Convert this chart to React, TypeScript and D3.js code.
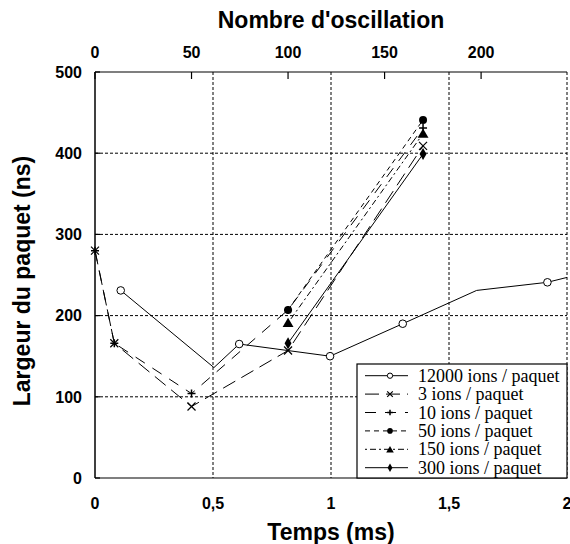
import React from "react";
import * as d3 from "d3";

// ---- data (time in ms, width in ns) ----
const xTicks = [0, 0.5, 1, 1.5, 2];
const xTickLabels = ["0", "0,5", "1", "1,5", "2"];
const yTicks = [0, 100, 200, 300, 400, 500];
const oscTicks = [0, 50, 100, 150, 200];
const oscMax = 244.5; // oscillations at 2 ms

const t12000 = [0.109, 0.504, 0.611, 0.996, 1.304, 1.617, 1.917, 2.0];
const v12000 = [231, 136, 165, 150, 190, 231, 241, 247];
const m12000 = [true, false, true, true, true, false, true, false];

const t3 = [0, 0.0818, 0.409, 0.818, 1.39];
const v3 = [280, 166, 88, 157, 409];

const t10 = [0, 0.0818, 0.409, 0.818, 1.39];
const v10 = [280, 166, 104, 207, 431];

const t50 = [0.818, 1.39];
const v50 = [207, 441];

const t150 = [0.818, 1.39];
const v150 = [191, 424];

const t300 = [0.818, 1.39];
const v300 = [166, 399];

const legendLabels = [
  "12000 ions / paquet",
  "3 ions / paquet",
  "10 ions / paquet",
  "50 ions / paquet",
  "150 ions / paquet",
  "300 ions / paquet",
];

type MarkerKind = "circleOpen" | "x" | "plus" | "circleFilled" | "triangle" | "diamond";

const series: { t: number[]; v: number[]; marks?: boolean[]; dash: string; marker: MarkerKind }[] = [
  { t: t12000, v: v12000, marks: m12000, dash: "none", marker: "circleOpen" },
  { t: t3, v: v3, dash: "14,7", marker: "x" },
  { t: t10, v: v10, dash: "11,9", marker: "plus" },
  { t: t50, v: v50, dash: "5,4", marker: "circleFilled" },
  { t: t150, v: v150, dash: "2,3,6,3", marker: "triangle" },
  { t: t300, v: v300, dash: "none", marker: "diamond" },
];

const L = 95, R = 567, T = 72, B = 478;
const x = d3.scaleLinear().domain([0, 2]).range([L, R]);
const xo = d3.scaleLinear().domain([0, oscMax]).range([L, R]);
const y = d3.scaleLinear().domain([0, 500]).range([B, T]);

function Marker({ kind, cx, cy, s }: { kind: MarkerKind; cx: number; cy: number; s: number }) {
  switch (kind) {
    case "circleOpen":
      return <circle cx={cx} cy={cy} r={s * 0.95} fill="white" stroke="black" strokeWidth={1} />;
    case "circleFilled":
      return <circle cx={cx} cy={cy} r={s} fill="black" />;
    case "x":
      return (
        <path
          d={`M${cx - s},${cy - s}L${cx + s},${cy + s}M${cx - s},${cy + s}L${cx + s},${cy - s}`}
          stroke="black"
          strokeWidth={1.2}
        />
      );
    case "plus":
      return (
        <path
          d={`M${cx - s},${cy}L${cx + s},${cy}M${cx},${cy - s}L${cx},${cy + s}`}
          stroke="black"
          strokeWidth={1.5}
        />
      );
    case "triangle": {
      const sym = d3.symbol(d3.symbolTriangle, s * s * 3.2)();
      return <path d={sym as string} transform={`translate(${cx},${cy + 1})`} fill="black" />;
    }
    case "diamond": {
      const sym = d3.symbol(d3.symbolDiamond, s * s * 2.6)();
      return <path d={sym as string} transform={`translate(${cx},${cy})`} fill="black" />;
    }
  }
  return null;
}

export default function App() {
  const line = d3
    .line<[number, number]>()
    .x((d) => x(d[0]))
    .y((d) => y(d[1]));

  const boldSans = "Liberation Sans, Arial, sans-serif";
  const serif = "Liberation Serif, serif";
  const legX0 = 357, legY0 = 364, legX1 = 567, legY1 = 478;
  const rowH = 18.4;

  return (
    <svg
      width={570}
      height={544}
      style={{ position: "absolute", left: 0, top: 0, background: "white" }}
    >
      <rect x={0} y={0} width={570} height={544} fill="white" />
      <defs>
        <clipPath id="plotclip">
          <rect x={L} y={T} width={R - L} height={B - T} />
        </clipPath>
      </defs>

      {/* grid */}
      {yTicks
        .filter((v) => v > 0 && v < 500)
        .map((v) => (
          <line key={"gy" + v} x1={L} x2={R} y1={y(v)} y2={y(v)} stroke="black" strokeWidth={1} strokeDasharray="3,2" />
        ))}
      {xTicks
        .filter((v) => v > 0 && v < 2)
        .map((v) => (
          <line key={"gx" + v} x1={x(v)} x2={x(v)} y1={T} y2={B} stroke="black" strokeWidth={1} strokeDasharray="3,2" />
        ))}

      {/* frame */}
      <line x1={L} x2={R} y1={T} y2={T} stroke="black" strokeWidth={1.2} />
      <line x1={L} x2={R} y1={B} y2={B} stroke="black" strokeWidth={1.2} />
      <line x1={L} x2={L} y1={T} y2={B} stroke="black" strokeWidth={1.5} />
      <line x1={R} x2={R} y1={T} y2={B} stroke="black" strokeWidth={1} strokeDasharray="3,2" />

      {/* y ticks */}
      {yTicks.map((v) => (
        <line key={"yt" + v} x1={L} x2={L + 5} y1={y(v)} y2={y(v)} stroke="black" strokeWidth={1.2} />
      ))}
      {/* top ticks */}
      {oscTicks.map((v) => (
        <line key={"ot" + v} x1={xo(v)} x2={xo(v)} y1={T} y2={T + 7} stroke="black" strokeWidth={1.2} />
      ))}

      {/* series */}
      <g clipPath="url(#plotclip)">
        {series.map((s, i) => (
          <path
            key={"s" + i}
            d={line(s.t.map((t, j) => [t, s.v[j]] as [number, number])) as string}
            fill="none"
            stroke="black"
            strokeWidth={1}
            strokeDasharray={s.dash}
          />
        ))}
      </g>
      {series.map((s, i) =>
        s.t.map((t, j) =>
          s.marks && !s.marks[j] ? null : (
            <Marker key={`m${i}-${j}`} kind={s.marker} cx={x(t)} cy={y(s.v[j])} s={4} />
          )
        )
      )}

      {/* axis labels */}
      <g fontFamily={boldSans} fontWeight="bold">
        {yTicks.map((v) => (
          <text key={"yl" + v} x={82} y={y(v)} dy="0.36em" textAnchor="end" fontSize={16}>
            {v}
          </text>
        ))}
        {xTicks.map((v, i) => (
          <text key={"xl" + i} x={x(v)} y={509} textAnchor="middle" fontSize={16}>
            {xTickLabels[i]}
          </text>
        ))}
        {oscTicks.map((v) => (
          <text key={"ol" + v} x={xo(v)} y={58} textAnchor="middle" fontSize={16}>
            {v}
          </text>
        ))}
        <text x={331} y={540} textAnchor="middle" fontSize={23}>
          Temps (ms)
        </text>
        <text x={331} y={28} textAnchor="middle" fontSize={23}>
          Nombre d'oscillation
        </text>
        <text transform={`translate(30,${(T + B) / 2 + 6}) rotate(-90)`} textAnchor="middle" fontSize={23}>
          Largeur du paquet (ns)
        </text>
      </g>

      {/* legend */}
      <rect x={legX0} y={legY0} width={legX1 - legX0} height={legY1 - legY0} fill="white" stroke="black" strokeWidth={1.2} />
      {series.map((s, i) => {
        const cy = 375.7 + i * rowH;
        return (
          <g key={"lg" + i}>
            <line x1={365} x2={408} y1={cy} y2={cy} stroke="black" strokeWidth={1} strokeDasharray={s.dash} />
            <Marker kind={s.marker} cx={390} cy={cy} s={2.8} />
            <text x={418} y={cy + 6} fontFamily={serif} fontSize={18}>
              {legendLabels[i]}
            </text>
          </g>
        );
      })}
    </svg>
  );
}
